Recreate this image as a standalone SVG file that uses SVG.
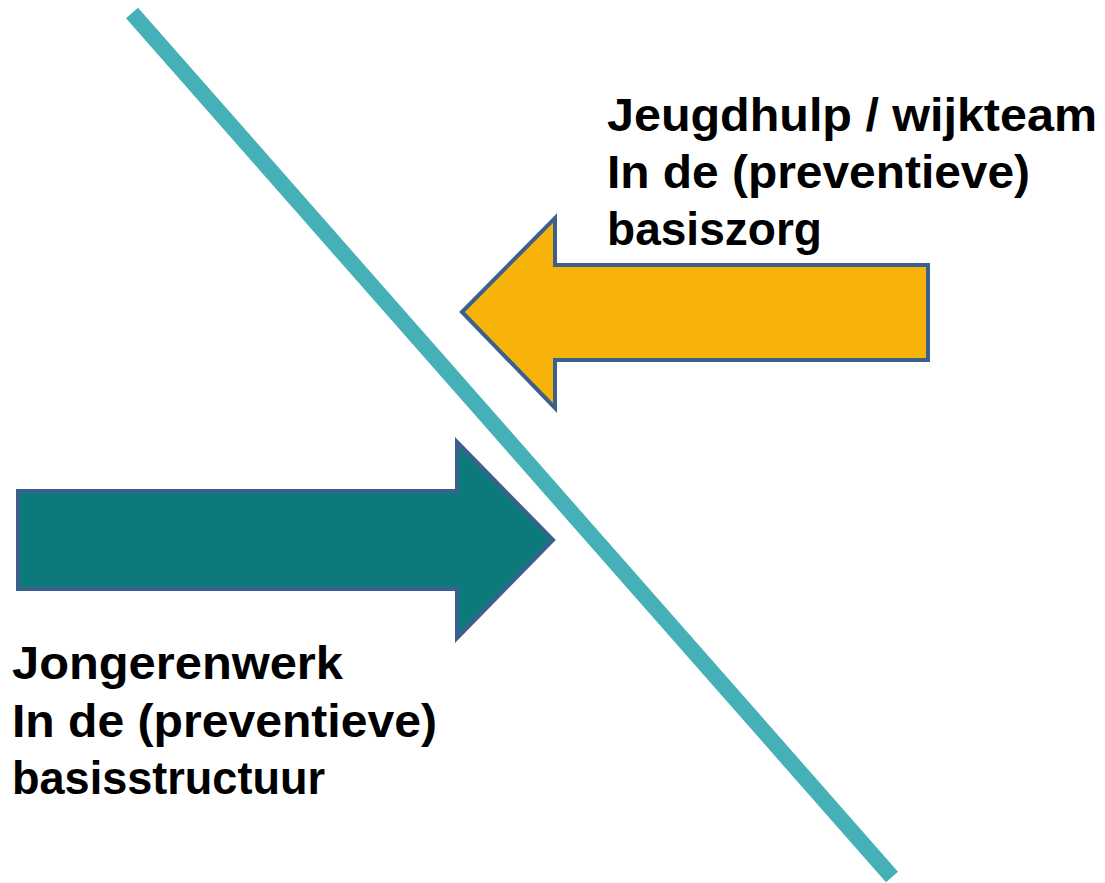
<svg xmlns="http://www.w3.org/2000/svg" width="1105" height="883" viewBox="0 0 1105 883">
<style>
.lbl{font-family:"Liberation Sans",Arial,sans-serif;font-weight:bold;font-size:46px;fill:#000}
.arrow{stroke:#3C5F8D;stroke-width:4;stroke-linejoin:miter}
</style>
<rect width="1105" height="883" fill="#fff"/>
<g id="connectors">
<line id="divider" x1="132" y1="13" x2="892" y2="877" stroke="#45B0B7" stroke-width="16"/>
</g>
<g id="arrow-jeugdhulp">
<polygon class="arrow" fill="#F7B30A" points="462,312 555,218 555,265 928,265 928,360 555,360 555,408"/>
</g>
<g id="arrow-jongerenwerk">
<polygon class="arrow" fill="#0C7A7A" points="553,540 457,442 457,491 18,491 18,589 457,589 457,638"/>
</g>
<g id="label-jeugdhulp">
<text class="lbl" x="607" y="131" textLength="490" lengthAdjust="spacingAndGlyphs">Jeugdhulp / wijkteam</text>
<text class="lbl" x="607" y="188" textLength="423" lengthAdjust="spacingAndGlyphs">In de (preventieve)</text>
<text class="lbl" x="607" y="245" textLength="215" lengthAdjust="spacingAndGlyphs">basiszorg</text>
</g>
<g id="label-jongerenwerk">
<text class="lbl" x="12" y="679" textLength="331" lengthAdjust="spacingAndGlyphs">Jongerenwerk</text>
<text class="lbl" x="12" y="737" textLength="425" lengthAdjust="spacingAndGlyphs">In de (preventieve)</text>
<text class="lbl" x="12" y="794" textLength="313" lengthAdjust="spacingAndGlyphs">basisstructuur</text>
</g>
</svg>
